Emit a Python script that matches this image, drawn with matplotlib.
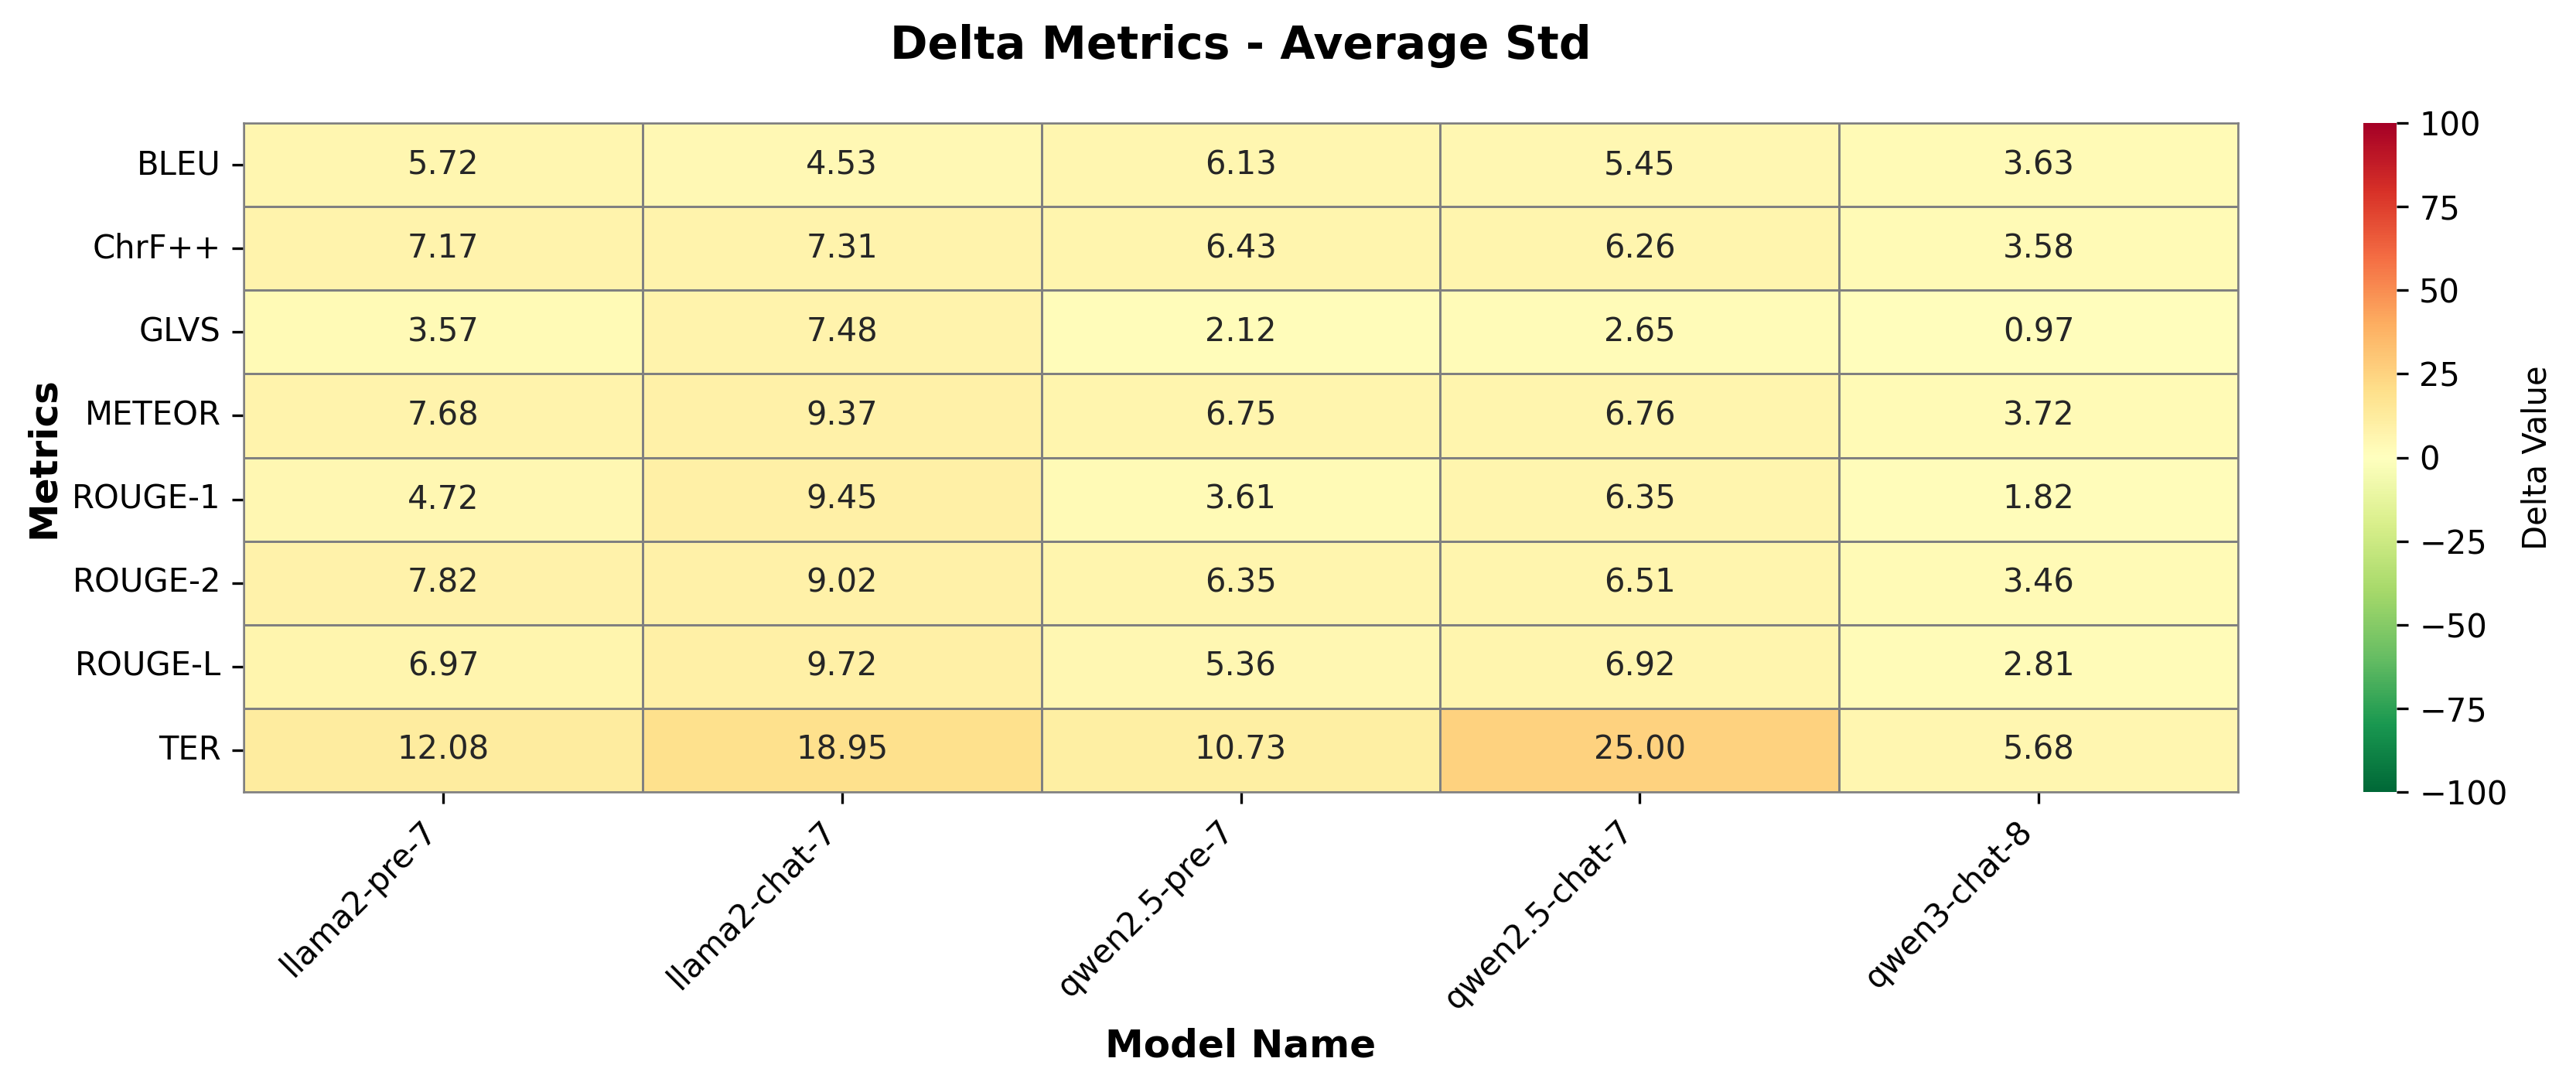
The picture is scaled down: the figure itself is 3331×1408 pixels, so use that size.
import numpy as np
import pandas as pd
import matplotlib
matplotlib.use("Agg")
import matplotlib.pyplot as plt
import seaborn as sns

# Delta std values
models = ['llama2-pre-7', 'llama2-chat-7', 'qwen2.5-pre-7', 'qwen2.5-chat-7', 'qwen3-chat-8']
metrics = ['BLEU', 'ChrF++', 'GLVS', 'METEOR', 'ROUGE-1', 'ROUGE-2', 'ROUGE-L', 'TER']

bleu = [5.72, 4.53, 6.13, 5.45, 3.63]
chrf = [7.17, 7.31, 6.43, 6.26, 3.58]
glvs = [3.57, 7.48, 2.12, 2.65, 0.97]
meteor = [7.68, 9.37, 6.75, 6.76, 3.72]
rouge1 = [4.72, 9.45, 3.61, 6.35, 1.82]
rouge2 = [7.82, 9.02, 6.35, 6.51, 3.46]
rougel = [6.97, 9.72, 5.36, 6.92, 2.81]
ter = [12.08, 18.95, 10.73, 25.00, 5.68]

df = pd.DataFrame([bleu, chrf, glvs, meteor, rouge1, rouge2, rougel, ter],
                  index=metrics, columns=models)

W, H, DPI = 3331, 1408, 300
fig = plt.figure(figsize=(W / DPI, H / DPI), dpi=DPI)
ax = fig.add_axes([315 / W, 1 - 1024 / H, 2579 / W, 865 / H])
cax = fig.add_axes([3056 / W, 1 - 1024 / H, 43 / W, 865 / H])

sns.heatmap(df, ax=ax, cbar_ax=cax, cmap='RdYlGn_r', vmin=-100, vmax=100,
            annot=True, fmt='.2f', annot_kws={'size': 10},
            linewidths=0.6, linecolor='gray',
            cbar_kws={'label': 'Delta Value'})

# outer border drawn as gray frame
for s in ax.spines.values():
    s.set_visible(True)
    s.set_color('gray')
    s.set_linewidth(0.6)

ax.set_xlabel('Model Name', fontsize=12, fontweight='bold')
ax.set_ylabel('Metrics', fontsize=12, fontweight='bold')
ax.set_xticklabels(models, rotation=45, ha='right', fontsize=10)
ax.set_yticklabels(metrics, rotation=0, fontsize=10)
ax.xaxis.set_label_coords(0.5, -0.352)
ax.yaxis.set_label_coords(-0.091, 0.5)

cax.tick_params(labelsize=10)
cax.set_ylabel('Delta Value', fontsize=10)

ax.text(0.5, 1 - 60 / H, 'Delta Metrics - Average Std', fontsize=14,
        fontweight='bold', ha='center', va='center',
        transform=matplotlib.transforms.blended_transform_factory(ax.transAxes, fig.transFigure))

fig.savefig('out.png', dpi=DPI)
